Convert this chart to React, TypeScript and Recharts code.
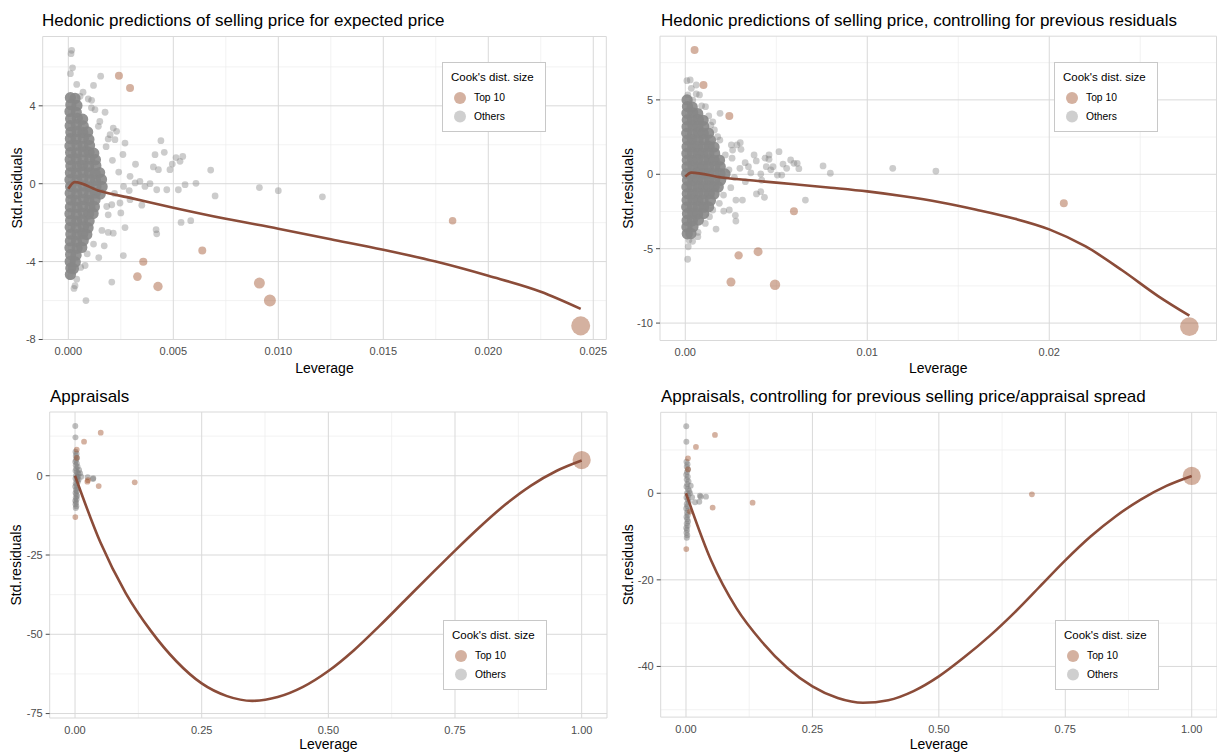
import React from "react";
import {
  CartesianGrid,
  Scatter,
  ScatterChart,
  XAxis,
  YAxis,
  ZAxis,
} from "recharts";

type P = [number, number];
type T = [number, number, number];

const TOP_FILL = "#a0522d";
const GRAY = "#808080";
const FIT = "#8b4c39";

// ---- panel 1: hedonic, expected price
const p1XTicks = [0, 0.005, 0.01, 0.015, 0.02, 0.025];
const p1XMinor = [0.0025, 0.0075, 0.0125, 0.0175, 0.0225];
const p1YTicks = [-8, -4, 0, 4];
const p1YMinor = [-6, -2, 2, 6];

const p1Core: P[] = [
  [0.0001, 4.42], [0.00032, 4.38],
  [0.00012, 4.05], [0.00041, 4.02],
  [0.00008, 3.71], [0.00038, 3.66],
  [0.00011, 3.33], [0.00043, 3.36], [0.00068, 3.31],
  [0.00009, 2.98], [0.00039, 3.02], [0.00071, 2.97],
  [0.00012, 2.64], [0.00042, 2.67], [0.00069, 2.62], [0.00092, 2.66],
  [0.0001, 2.31], [0.00037, 2.28], [0.00072, 2.33], [0.00098, 2.27],
  [0.00008, 1.94], [0.00041, 1.97], [0.0007, 1.92], [0.00101, 1.96],
  [0.00011, 1.6], [0.0004, 1.58], [0.00073, 1.63], [0.00099, 1.61], [0.00121, 1.57],
  [0.00009, 1.24], [0.00038, 1.27], [0.0007, 1.22], [0.00102, 1.26], [0.00129, 1.23],
  [0.00012, 0.91], [0.00042, 0.88], [0.00068, 0.93], [0.00097, 0.89], [0.00131, 0.92],
  [0.0001, 0.56], [0.00039, 0.53], [0.00071, 0.58], [0.001, 0.55], [0.00128, 0.52], [0.00149, 0.57],
  [0.00008, 0.21], [0.00041, 0.18], [0.00069, 0.23], [0.00102, 0.2], [0.0013, 0.17], [0.00158, 0.22],
  [0.00011, -0.14], [0.00038, -0.17], [0.00072, -0.12], [0.00099, -0.16], [0.00132, -0.13], [0.00161, -0.15],
  [0.00009, -0.49], [0.0004, -0.52], [0.0007, -0.47], [0.00101, -0.51], [0.00129, -0.48], [0.00152, -0.53],
  [0.00012, -0.84], [0.00037, -0.87], [0.00073, -0.82], [0.00098, -0.86], [0.00127, -0.83],
  [0.0001, -1.19], [0.00042, -1.22], [0.00069, -1.17], [0.00103, -1.21], [0.00124, -1.18],
  [0.00008, -1.54], [0.00039, -1.57], [0.00071, -1.52], [0.00097, -1.56], [0.00118, -1.53],
  [0.00011, -1.89], [0.0004, -1.92], [0.00068, -1.87], [0.00099, -1.91],
  [0.00009, -2.24], [0.00038, -2.27], [0.00072, -2.22], [0.00094, -2.26],
  [0.00012, -2.59], [0.00041, -2.62], [0.00069, -2.57], [0.00088, -2.61],
  [0.0001, -2.94], [0.00039, -2.97], [0.00071, -2.92],
  [0.00008, -3.29], [0.00042, -3.32], [0.00064, -3.27],
  [0.00011, -3.64], [0.00037, -3.67],
  [0.00009, -3.99], [0.00033, -4.02],
  [0.00012, -4.34], [0.00024, -4.37],
  [0.0001, -4.66],
];

const p1Others: P[] = [
  [0.00016, 6.85], [0.00013, 6.68], [0.0002, 5.95], [0.0001, 5.65], [0.00154, 5.52],
  [0.0012, 5.05], [0.00056, 4.49], [0.00095, 4.35], [0.00111, 4.28], [0.00127, 3.8],
  [0.00175, 3.67], [0.00143, 2.95], [0.00214, 2.86], [0.0023, 2.69], [0.00199, 2.52],
  [0.0027, 2.09], [0.00222, 2.26], [0.00441, 2.21], [0.00457, 1.61], [0.00413, 1.49],
  [0.00513, 1.34], [0.00545, 1.4], [0.00532, 1.15], [0.00495, 1.01], [0.00405, 0.86],
  [0.00429, 0.72], [0.00484, 0.72], [0.00678, 0.7], [0.00608, 0.02], [0.00556, -0.05],
  [0.00699, -0.63], [0.00294, 0.38], [0.00341, 0.12], [0.00318, 0.04], [0.00263, -0.14],
  [0.00365, -0.14], [0.00389, 0], [0.00421, -0.31], [0.00469, -0.31], [0.00524, -0.31],
  [0.00294, -0.82], [0.00246, -0.99], [0.00207, -1.08], [0.00183, -1.17], [0.00537, -1.99],
  [0.00583, -1.9], [0.00418, -2.36], [0.00421, -2.57], [0.0027, -2.25], [0.0019, -2.5],
  [0.00214, -2.54], [0.00171, -3.19], [0.00145, -3.79], [0.00262, -3.69], [0.00059, -4.3],
  [0.00008, -4.77], [0.00207, -5.05], [0.00032, -5.24], [0.00027, -5.38], [0.00084, -6.0],
  [0.0091, -0.2], [0.01, -0.36], [0.0121, -0.67],
  [0.0018, 1.9], [0.0021, 1.2], [0.0024, 0.6], [0.0022, -0.5], [0.0019, -1.6],
  [0.0016, -2.4], [0.0012, -3.1], [0.0009, -3.6], [0.0015, 3.2], [0.0019, 2.3],
  [0.0026, 1.5], [0.0029, -0.35], [0.0025, -1.5], [0.0032, 1.0], [0.0035, -1.1],
  [0.0011, 3.9], [0.0007, 4.7], [0.0004, 5.1], [0.0008, -4.2], [0.0004, -4.9],
];

const p1Top: T[] = [
  [0.00241, 5.54, 0.05], [0.00294, 4.92, 0.05], [0.00357, -4.01, 0.052],
  [0.00329, -4.77, 0.058], [0.00427, -5.28, 0.069], [0.00638, -3.43, 0.05],
  [0.0091, -5.1, 0.095], [0.0096, -6.0, 0.113], [0.0183, -1.9, 0.045],
  [0.0244, -7.3, 0.284],
];

const p1Fit: P[] = [
  [0, -0.26], [0.0003, 0.08], [0.0015, -0.38], [0.003, -0.74], [0.005, -1.23],
  [0.0075, -1.8], [0.01, -2.31], [0.0125, -2.85], [0.015, -3.39], [0.0175, -4.0],
  [0.02, -4.73], [0.0225, -5.55], [0.0244, -6.43],
];

// ---- panel 2: hedonic, controlling for previous residuals
const p2XTicks = [0, 0.01, 0.02];
const p2XMinor = [0.005, 0.015, 0.025];
const p2YTicks = [-10, -5, 0, 5];
const p2YMinor = [-7.5, -2.5, 2.5, 7.5];

const p2Core: P[] = [
  [0.0001, 5.0],
  [0.00012, 4.55], [0.00038, 4.52],
  [0.00009, 4.1], [0.00041, 4.13], [0.00068, 4.08],
  [0.00011, 3.65], [0.00039, 3.62], [0.00072, 3.67], [0.00098, 3.63],
  [0.0001, 3.2], [0.00042, 3.23], [0.00069, 3.18], [0.00101, 3.21],
  [0.00008, 2.75], [0.0004, 2.72], [0.00071, 2.77], [0.00099, 2.74], [0.00128, 2.76],
  [0.00012, 2.3], [0.00038, 2.33], [0.0007, 2.28], [0.00102, 2.31], [0.00138, 2.29],
  [0.0001, 1.85], [0.00041, 1.82], [0.00068, 1.87], [0.001, 1.84], [0.00131, 1.86], [0.00158, 1.83],
  [0.00009, 1.4], [0.00039, 1.43], [0.00072, 1.38], [0.00098, 1.41], [0.00129, 1.39], [0.00161, 1.42],
  [0.00011, 0.95], [0.0004, 0.92], [0.00069, 0.97], [0.00101, 0.94], [0.00132, 0.96], [0.00159, 0.93], [0.00188, 0.95],
  [0.0001, 0.5], [0.00042, 0.53], [0.0007, 0.48], [0.00099, 0.51], [0.00128, 0.49], [0.00162, 0.52], [0.00192, 0.5],
  [0.00008, 0.05], [0.00039, 0.02], [0.00071, 0.07], [0.00102, 0.04], [0.0013, 0.06], [0.00158, 0.03], [0.00191, 0.05], [0.00218, 0.02],
  [0.00012, -0.4], [0.00041, -0.43], [0.00068, -0.38], [0.001, -0.41], [0.00131, -0.39], [0.00161, -0.42], [0.00194, -0.4],
  [0.00009, -0.85], [0.00038, -0.82], [0.00072, -0.87], [0.00099, -0.84], [0.00129, -0.86], [0.00159, -0.83], [0.00181, -0.85],
  [0.00011, -1.3], [0.0004, -1.33], [0.00069, -1.28], [0.00101, -1.31], [0.00132, -1.29], [0.00158, -1.32],
  [0.0001, -1.75], [0.00042, -1.72], [0.0007, -1.77], [0.00098, -1.74], [0.00138, -1.76],
  [0.00008, -2.2], [0.00039, -2.23], [0.00071, -2.18], [0.00102, -2.21], [0.00128, -2.19],
  [0.00012, -2.65], [0.00041, -2.62], [0.00068, -2.67], [0.00101, -2.64],
  [0.0001, -3.1], [0.00039, -3.13], [0.00072, -3.08],
  [0.00009, -3.55], [0.00042, -3.52],
  [0.00011, -4.0], [0.00031, -3.98],
];

const p2Others: P[] = [
  [0.00009, 6.29], [0.00027, 6.34], [0.0006, 6.0], [0.00078, 5.33], [0.00033, 5.78],
  [0.00041, 4.99], [0.00014, 5.33], [0.00111, 4.54], [0.00129, 3.92], [0.00191, 4.1],
  [0.00151, 3.53], [0.00178, 2.53], [0.0016, 2.98], [0.00142, 2.08], [0.00253, 1.97],
  [0.00284, 1.97], [0.00302, 2.12], [0.0026, 1.63], [0.00306, 1.68], [0.00378, 1.3],
  [0.00257, 1.08], [0.00329, 0.78], [0.00347, 0.51], [0.0046, 1.3], [0.00438, 1.08],
  [0.00515, 1.52], [0.0046, 1.01], [0.00482, 0.51], [0.00445, 0.51], [0.00537, 0.69],
  [0.00579, 0.96], [0.00597, 0.74], [0.00615, 0.74], [0.00624, 0.38], [0.00557, 0.4],
  [0.00757, 0.56], [0.00797, 0.07], [0.00506, -0.05], [0.0053, -0.05], [0.00415, 0.02],
  [0.00391, -1.32], [0.00415, -1.17], [0.00435, -1.55], [0.0066, -1.73], [0.00314, -1.73],
  [0.00278, -1.73], [0.00242, -2.4], [0.00211, -2.47], [0.00275, -2.76], [0.00278, -3.14],
  [0.00169, -3.68], [0.00069, -4.19], [0.0002, -4.42], [0.00016, -4.87], [0.00013, -5.71],
  [0.00187, -1.95], [0.00151, -2.4], [0.00133, -2.85], [0.0114, 0.4], [0.01377, 0.22],
  [0.0024, 0.3], [0.0027, -0.2], [0.0025, -0.9], [0.003, 0.4], [0.0033, -0.5],
  [0.0036, 0.1], [0.0022, 1.3], [0.0019, 2.3], [0.0021, -1.4], [0.0014, 3.3],
  [0.0009, 4.6], [0.0006, 5.4], [0.0011, -3.3], [0.0007, -3.9], [0.0004, -4.5],
  [0.0039, 0.9], [0.0042, -0.4], [0.0047, 0.3],
];

const p2Top: T[] = [
  [0.00051, 8.35, 0.05], [0.001, 6.0, 0.05], [0.00242, 3.92, 0.05],
  [0.00597, -2.49, 0.05], [0.004, -5.2, 0.064], [0.00293, -5.45, 0.055],
  [0.00251, -7.24, 0.064], [0.00493, -7.42, 0.085], [0.0208, -1.95, 0.05],
  [0.0277, -10.24, 0.272],
];

const p2Fit: P[] = [
  [0, -0.16], [0.00033, 0.11], [0.002, -0.22], [0.004, -0.45], [0.006, -0.67],
  [0.008, -0.9], [0.01, -1.15], [0.012, -1.48], [0.014, -1.88], [0.016, -2.38],
  [0.018, -2.95], [0.02, -3.7], [0.022, -4.85], [0.024, -6.45], [0.026, -8.2],
  [0.0277, -9.5],
];

// ---- panel 3: appraisals
const unitTicks = [0, 0.25, 0.5, 0.75, 1];
const unitMinor = [0.125, 0.375, 0.625, 0.875];
const p3YTicks = [-75, -50, -25, 0];
const p3YMinor = [-62.5, -37.5, -12.5, 12.5];

const p3Others: P[] = [
  [0.001, 7.6], [0.003, 6.9], [0.0015, 6.2], [0.004, 5.6], [0.002, 5.0], [0.0005, 4.4],
  [0.0035, 3.9], [0.0015, 3.3], [0.005, 2.8], [0.0025, 2.2], [0.001, 1.6], [0.004, 1.1],
  [0.0065, 0.6], [0.002, 0.1], [0.0045, -0.4], [0.001, -0.9], [0.0035, -1.4], [0.0055, -1.9],
  [0.0015, -2.4], [0.003, -2.9], [0.0005, -3.4], [0.0045, -3.9], [0.002, -4.4], [0.0035, -4.9],
  [0.001, -5.4], [0.0025, -5.9], [0.004, -6.4], [0.0015, -6.9], [0.003, -7.4], [0.0005, -7.9],
  [0.002, -8.4], [0.001, -9.0], [0.0025, -9.6], [0.0015, -10.2],
  [0.0005, 15.7], [0.0008, 12.1], [0.0099, 0.76], [0.025, -0.5], [0.036, -0.82],
  [0.0053, -0.32], [0.0355, -1.0], [0.012, -0.3], [0.008, 1.8], [0.007, -1.3],
];

const p3Top: T[] = [
  [0.0507, 13.56, 0.026], [0.0178, 10.72, 0.026], [0.0033, 8.2, 0.026],
  [0.0033, 5.67, 0.026], [0.0243, -1.89, 0.026], [0.0255, -1.4, 0.026],
  [0.0467, -3.25, 0.026], [0.1178, -2.08, 0.026], [0.0006, -13.02, 0.026],
  [1.0, 4.95, 0.26],
];

const p3Fit: P[] = [
  [0, 0], [0.05, -21], [0.1, -37], [0.15, -49], [0.2, -58.5], [0.25, -65.5],
  [0.3, -69.5], [0.35, -71], [0.4, -69.8], [0.45, -66.6], [0.5, -61.6], [0.55, -55.1],
  [0.6, -47.5], [0.65, -39.5], [0.7, -31.5], [0.75, -23.6], [0.8, -16.0], [0.85, -9.0],
  [0.9, -3.1], [0.95, 1.5], [1.0, 4.8],
];

// ---- panel 4: appraisals, controlling for spread
const p4YTicks = [-40, -20, 0];
const p4YMinor = [-50, -30, -10, 10];

const p4Others: P[] = [
  [0.001, 7.3], [0.003, 6.7], [0.0015, 6.1], [0.004, 5.5], [0.002, 4.9], [0.0005, 4.3],
  [0.0035, 3.8], [0.0015, 3.2], [0.005, 2.7], [0.0025, 2.1], [0.001, 1.5], [0.004, 1.0],
  [0.0065, 0.5], [0.002, 0.0], [0.0045, -0.5], [0.001, -1.0], [0.0035, -1.5], [0.0055, -2.0],
  [0.0015, -2.5], [0.003, -3.0], [0.0005, -3.5], [0.0045, -4.0], [0.002, -4.5], [0.0035, -5.0],
  [0.001, -5.5], [0.0025, -6.0], [0.004, -6.5], [0.0015, -7.0], [0.003, -7.5], [0.0005, -8.0],
  [0.002, -8.5], [0.001, -9.1], [0.0025, -9.7], [0.0015, -10.3],
  [0.0005, 15.5], [0.0008, 11.9], [0.0093, 1.76], [0.0276, -0.55], [0.0395, -0.78],
  [0.0178, -2.08], [0.0263, -1.94], [0.0079, 0], [0.0292, -0.78], [0.012, -0.9],
];

const p4Top: T[] = [
  [0.0573, 13.46, 0.026], [0.0197, 10.7, 0.026], [0.0039, 8.08, 0.026],
  [0.0039, 5.54, 0.026], [0.0527, -3.32, 0.026], [0.0079, -4.24, 0.026],
  [0.1317, -2.17, 0.026], [0.684, -0.24, 0.026], [0.0006, -12.9, 0.026],
  [1.0, 4.0, 0.26],
];

const p4Fit: P[] = [
  [0, 0], [0.05, -15.6], [0.1, -26.6], [0.15, -34.3], [0.2, -40.3], [0.25, -44.6],
  [0.3, -47.3], [0.35, -48.4], [0.4, -47.8], [0.45, -45.7], [0.5, -42.3], [0.55, -37.9],
  [0.6, -33.0], [0.65, -27.5], [0.7, -21.5], [0.75, -15.5], [0.8, -10.0], [0.85, -5.3],
  [0.9, -1.4], [0.95, 1.7], [1.0, 4.0],
];

// symbol area (px^2) per point type
const pts = (a: P[], s: number) => a.map(([x, y]) => ({ x, y, s }));
const cooks = (a: T[]) => a.map(([x, y, c]) => ({ x, y, s: c * 1000 }));

const CHART_W = 609;
const CHART_H = 377;
const AXIS_BASE = 373; // baseline of "Leverage"

const CookLegend = ({ x, y }: { x: number; y: number }) => (
  <div
    style={{
      position: "absolute",
      left: x,
      top: y,
      width: 104,
      height: 70,
      boxSizing: "border-box",
      border: "1px solid #c8c8c8",
      background: "#fff",
    }}
  >
    <div style={{ position: "absolute", left: 8, top: 6, fontSize: 11.5, lineHeight: "16px" }}>
      Cook's dist. size
    </div>
    <svg style={{ position: "absolute", left: 0, top: 0 }} width={40} height={68}>
      <circle cx={17} cy={35} r={6} fill={TOP_FILL} fillOpacity={0.45} />
      <circle cx={17} cy={53.5} r={6} fill={GRAY} fillOpacity={0.38} />
    </svg>
    <div style={{ position: "absolute", left: 31, top: 28, fontSize: 10.3, lineHeight: "14px" }}>Top 10</div>
    <div style={{ position: "absolute", left: 31, top: 46.5, fontSize: 10.3, lineHeight: "14px" }}>Others</div>
  </div>
);

interface PanelProps {
  title: string;
  left: number;
  top: number;
  titleX: number;
  yTitleX: number;
  plot: { l: number; r: number; t: number; b: number };
  xDomain: [number, number];
  yDomain: [number, number];
  xTicks: number[];
  xMinor: number[];
  yTicks: number[];
  yMinor: number[];
  xDigits: number;
  core?: P[];
  others: P[];
  otherSize: number;
  otherOpacity: number;
  top10: T[];
  fit: P[];
  legend: { x: number; y: number };
}

const Panel = (p: PanelProps) => (
  <div style={{ position: "absolute", left: p.left, top: p.top, width: CHART_W, height: CHART_H }}>
    <div
      style={{
        position: "absolute",
        left: p.titleX,
        top: 12,
        fontSize: 17,
        lineHeight: "17px",
        whiteSpace: "nowrap",
        color: "#000",
      }}
    >
      {p.title}
    </div>
    <ScatterChart
      width={CHART_W}
      height={CHART_H}
      margin={{ top: p.plot.t, right: CHART_W - p.plot.r, bottom: CHART_H - AXIS_BASE, left: 0 }}
    >
      <CartesianGrid
        horizontalValues={p.yMinor}
        verticalValues={p.xMinor}
        stroke="#ececec"
        strokeWidth={0.7}
      />
      <CartesianGrid stroke="#d9d9d9" strokeWidth={1} />
      <XAxis
        type="number"
        dataKey="x"
        domain={p.xDomain}
        allowDataOverflow
        ticks={p.xTicks}
        interval={0}
        tickFormatter={(v: number) => v.toFixed(p.xDigits)}
        tickLine={false}
        axisLine={false}
        tickSize={0}
        tickMargin={8}
        height={AXIS_BASE - p.plot.b}
        tick={{ fill: "#4d4d4d", fontSize: 11 }}
        label={{ value: "Leverage", position: "insideBottom", offset: 0, fill: "#000", fontSize: 14 }}
      />
      <YAxis
        type="number"
        dataKey="y"
        domain={p.yDomain}
        allowDataOverflow
        ticks={p.yTicks}
        interval={0}
        width={p.plot.l}
        tickSize={4}
        tickMargin={3}
        tickLine={{ stroke: "#4d4d4d" }}
        axisLine={false}
        tick={{ fill: "#4d4d4d", fontSize: 11 }}
        label={{
          value: "Std.residuals",
          angle: -90,
          position: "insideLeft",
          offset: p.yTitleX,
          fill: "#000",
          fontSize: 14,
          style: { textAnchor: "middle" },
        }}
      />
      <ZAxis type="number" dataKey="s" domain={[0, 1000]} range={[0, 1000]} />
      <Scatter
        data={pts(p.others, p.otherSize)}
        fill={GRAY}
        fillOpacity={p.otherOpacity}
        stroke="none"
        isAnimationActive={false}
      />
      {p.core && (
        <Scatter
          data={pts(p.core, 100)}
          fill="#878787"
          fillOpacity={0.9}
          stroke="none"
          isAnimationActive={false}
        />
      )}
      <Scatter
        data={cooks(p.top10)}
        fill={TOP_FILL}
        fillOpacity={0.45}
        stroke="none"
        isAnimationActive={false}
      />
      <Scatter
        data={pts(p.fit, 1)}
        line={{ stroke: FIT, strokeWidth: 2.6 }}
        lineJointType="monotoneX"
        shape={() => <g />}
        isAnimationActive={false}
      />
    </ScatterChart>
    <CookLegend x={p.legend.x} y={p.legend.y} />
  </div>
);

export default function App() {
  return (
    <div
      style={{
        position: "absolute",
        left: 0,
        top: 0,
        width: 1217,
        height: 755,
        background: "#fff",
        overflow: "hidden",
        fontFamily: '"Liberation Sans", Arial, sans-serif',
      }}
    >
      <Panel
        title="Hedonic predictions of selling price for expected price"
        left={0}
        top={0}
        titleX={42}
        yTitleX={17}
        plot={{ l: 42.7, r: 606.3, t: 36.5, b: 339.5 }}
        xDomain={[-0.00122, 0.02562]}
        yDomain={[-8.0, 7.56]}
        xTicks={p1XTicks}
        xMinor={p1XMinor}
        yTicks={p1YTicks}
        yMinor={p1YMinor}
        xDigits={3}
        core={p1Core}
        others={p1Others}
        otherSize={36}
        otherOpacity={0.4}
        top10={p1Top}
        fit={p1Fit}
        legend={{ x: 442, y: 62 }}
      />
      <Panel
        title="Hedonic predictions of selling price, controlling for previous residuals"
        left={608}
        top={0}
        titleX={53}
        yTitleX={20}
        plot={{ l: 52, r: 608.5, t: 36.2, b: 340.5 }}
        xDomain={[-0.00139, 0.02919]}
        yDomain={[-11.17, 9.28]}
        xTicks={p2XTicks}
        xMinor={p2XMinor}
        yTicks={p2YTicks}
        yMinor={p2YMinor}
        xDigits={2}
        core={p2Core}
        others={p2Others}
        otherSize={36}
        otherOpacity={0.4}
        top10={p2Top}
        fit={p2Fit}
        legend={{ x: 446, y: 62 }}
      />
      <Panel
        title="Appraisals"
        left={0}
        top={376}
        titleX={50}
        yTitleX={16}
        plot={{ l: 49.7, r: 607, t: 36, b: 342 }}
        xDomain={[-0.05, 1.05]}
        yDomain={[-76.4, 20.1]}
        xTicks={unitTicks}
        xMinor={unitMinor}
        yTicks={p3YTicks}
        yMinor={p3YMinor}
        xDigits={2}
        others={p3Others}
        otherSize={28}
        otherOpacity={0.5}
        top10={p3Top}
        fit={p3Fit}
        legend={{ x: 443, y: 244 }}
      />
      <Panel
        title="Appraisals, controlling for previous selling price/appraisal spread"
        left={608}
        top={376}
        titleX={53}
        yTitleX={20}
        plot={{ l: 52.7, r: 609, t: 36.3, b: 341.1 }}
        xDomain={[-0.05, 1.05]}
        yDomain={[-51.7, 18.7]}
        xTicks={unitTicks}
        xMinor={unitMinor}
        yTicks={p4YTicks}
        yMinor={p4YMinor}
        xDigits={2}
        others={p4Others}
        otherSize={28}
        otherOpacity={0.5}
        top10={p4Top}
        fit={p4Fit}
        legend={{ x: 447, y: 244 }}
      />
    </div>
  );
}
